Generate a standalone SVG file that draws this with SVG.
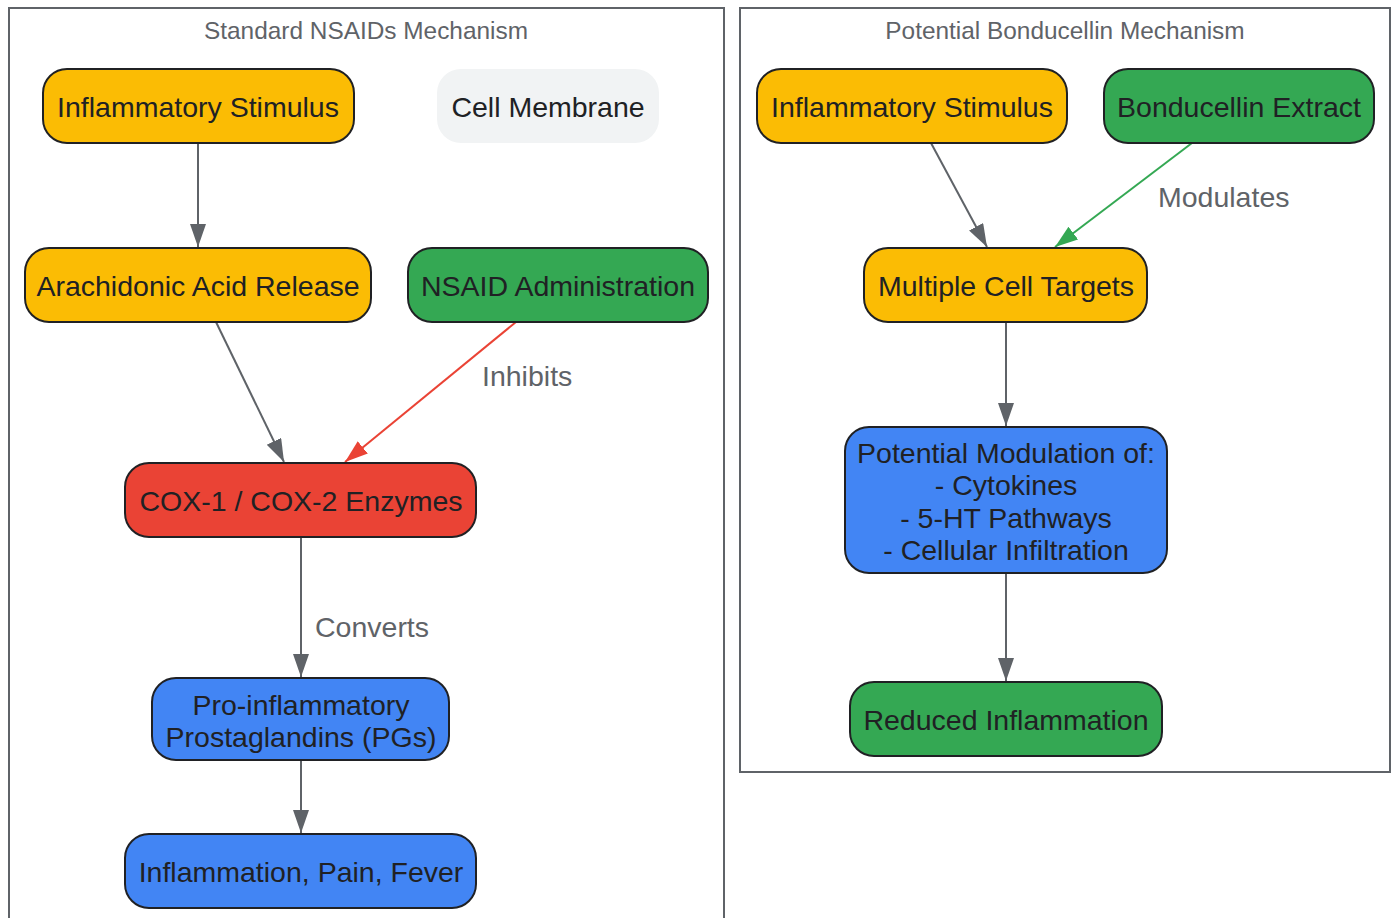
<svg xmlns="http://www.w3.org/2000/svg" width="1396" height="918" viewBox="0 0 1396 918">
<defs>
<style>
.cl{fill:none;stroke:#5f6368;stroke-width:2}
.ct{font-family:"Liberation Sans",Arial,sans-serif;font-size:24.4px;fill:#5f6368;text-anchor:middle}
.n{stroke:#202124;stroke-width:2}
.nt{font-family:"Liberation Sans",Arial,sans-serif;font-size:28.5px;fill:#202124;text-anchor:middle}
.el{font-family:"Liberation Sans",Arial,sans-serif;font-size:28.5px;fill:#5f6368}
.y{fill:#fbbc04}.g{fill:#34a853}.r{fill:#ea4335}.b{fill:#4285f4}.m{fill:#f1f3f4;stroke:none}
.e{fill:none;stroke-width:2}
</style>
<marker id="ag" markerUnits="userSpaceOnUse" markerWidth="24" markerHeight="17" refX="23" refY="8" orient="auto"><path d="M0,0 L23,8 L0,16 z" fill="#5f6368"/></marker>
<marker id="ar" markerUnits="userSpaceOnUse" markerWidth="24" markerHeight="17" refX="23" refY="8" orient="auto"><path d="M0,0 L23,8 L0,16 z" fill="#ea4335"/></marker>
<marker id="agr" markerUnits="userSpaceOnUse" markerWidth="24" markerHeight="17" refX="23" refY="8" orient="auto"><path d="M0,0 L23,8 L0,16 z" fill="#34a853"/></marker>
</defs>
<rect width="1396" height="918" fill="#ffffff"/>
<g id="cluster-nsaid">
<rect class="cl" x="9" y="8" width="715" height="920"/>
<text class="ct" x="366" y="39">Standard NSAIDs Mechanism</text>
</g>
<g id="cluster-bonducellin">
<rect class="cl" x="740" y="8" width="650" height="764"/>
<text class="ct" x="1065" y="39">Potential Bonducellin Mechanism</text>
</g>
<g id="connectors">
<line class="e" x1="198" y1="143" x2="198" y2="247" stroke="#5f6368" marker-end="url(#ag)"/>
<line class="e" x1="216" y1="322" x2="284" y2="462" stroke="#5f6368" marker-end="url(#ag)"/>
<line class="e" x1="516" y1="322" x2="345" y2="462" stroke="#ea4335" marker-end="url(#ar)"/>
<text class="el" x="482" y="386">Inhibits</text>
<line class="e" x1="301" y1="537" x2="301" y2="677" stroke="#5f6368" marker-end="url(#ag)"/>
<text class="el" x="315" y="637">Converts</text>
<line class="e" x1="301" y1="760" x2="301" y2="833" stroke="#5f6368" marker-end="url(#ag)"/>
<line class="e" x1="931" y1="143" x2="987" y2="247" stroke="#5f6368" marker-end="url(#ag)"/>
<line class="e" x1="1192" y1="143" x2="1055" y2="247" stroke="#34a853" marker-end="url(#agr)"/>
<text class="el" x="1158" y="207">Modulates</text>
<line class="e" x1="1006" y1="322" x2="1006" y2="426" stroke="#5f6368" marker-end="url(#ag)"/>
<line class="e" x1="1006" y1="573" x2="1006" y2="681" stroke="#5f6368" marker-end="url(#ag)"/>
</g>
<g id="n-stim1"><rect class="n y" x="43" y="69" width="311" height="74" rx="24"/><text class="nt" x="198" y="117">Inflammatory Stimulus</text></g>
<g id="n-membrane"><rect class="m" x="437" y="69" width="222" height="74" rx="24"/><text class="nt" x="548" y="117">Cell Membrane</text></g>
<g id="n-aa"><rect class="n y" x="25" y="248" width="346" height="74" rx="24"/><text class="nt" x="198" y="296">Arachidonic Acid Release</text></g>
<g id="n-nsaid"><rect class="n g" x="408" y="248" width="300" height="74" rx="24"/><text class="nt" x="558" y="296">NSAID Administration</text></g>
<g id="n-cox"><rect class="n r" x="125" y="463" width="351" height="74" rx="24"/><text class="nt" x="301" y="511">COX-1 / COX-2 Enzymes</text></g>
<g id="n-pgs"><rect class="n b" x="152" y="678" width="297" height="82" rx="24"/><text class="nt" x="301" y="715">Pro-inflammatory</text><text class="nt" x="301" y="747">Prostaglandins (PGs)</text></g>
<g id="n-ipf"><rect class="n b" x="125" y="834" width="351" height="74" rx="24"/><text class="nt" x="301" y="882">Inflammation, Pain, Fever</text></g>
<g id="n-stim2"><rect class="n y" x="757" y="69" width="310" height="74" rx="24"/><text class="nt" x="912" y="117">Inflammatory Stimulus</text></g>
<g id="n-bond"><rect class="n g" x="1104" y="69" width="270" height="74" rx="24"/><text class="nt" x="1239" y="117">Bonducellin Extract</text></g>
<g id="n-mct"><rect class="n y" x="864" y="248" width="283" height="74" rx="24"/><text class="nt" x="1006" y="296">Multiple Cell Targets</text></g>
<g id="n-pm"><rect class="n b" x="845" y="427" width="322" height="146" rx="24"/><text class="nt" x="1006" y="463">Potential Modulation of:</text><text class="nt" x="1006" y="495">- Cytokines</text><text class="nt" x="1006" y="528">- 5-HT Pathways</text><text class="nt" x="1006" y="560">- Cellular Infiltration</text></g>
<g id="n-ri"><rect class="n g" x="850" y="682" width="312" height="74" rx="24"/><text class="nt" x="1006" y="730">Reduced Inflammation</text></g>
</svg>
